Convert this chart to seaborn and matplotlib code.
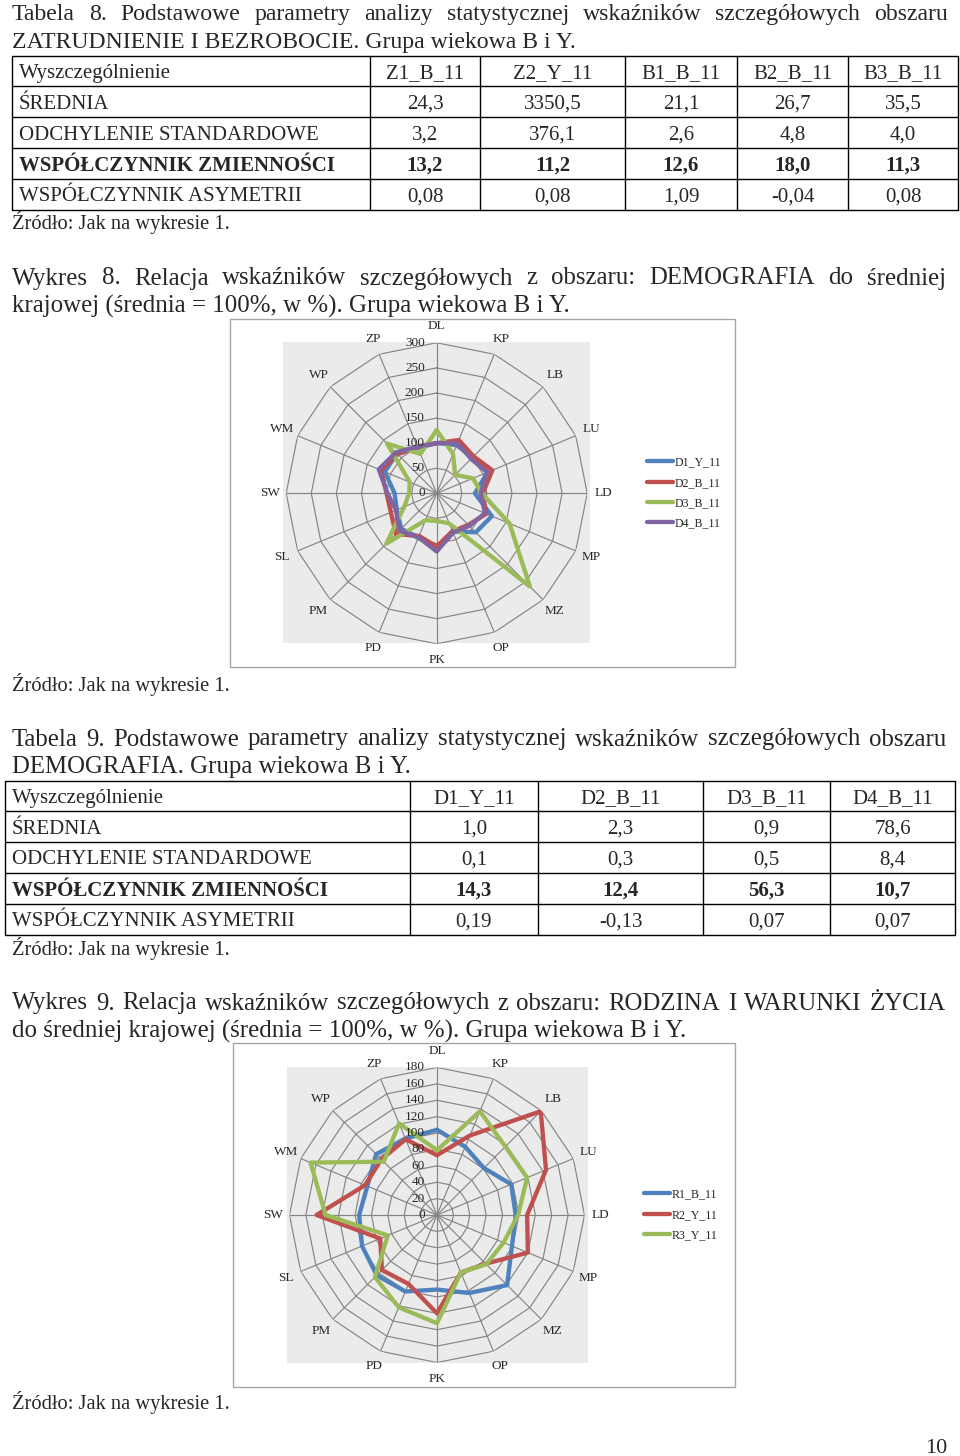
import numpy as np
import pandas as pd
import seaborn as sns
import matplotlib.pyplot as plt
from matplotlib.patches import Rectangle

sns.set_style('white')
plt.rcParams['font.family'] = ['Liberation Serif', 'DejaVu Serif']

# --- data ---------------------------------------------------------------
regions = ['DL', 'KP', 'LB', 'LU', 'LD', 'MP', 'MZ', 'OP',
           'PK', 'PD', 'PM', 'SL', 'SW', 'WM', 'WP', 'ZP']

d1_y_11 = [100, 105, 100, 110, 76, 119, 110, 82, 108, 95, 100, 86, 84, 112, 112, 98]
d2_b_11 = [100, 115, 104, 120, 92, 107, 89, 82, 106, 92, 115, 99, 100, 120, 110, 100]
d3_b_11 = [126, 85, 52, 78, 90, 157, 263, 65, 55, 58, 142, 70, 55, 58, 140, 85]
d4_b_11 = [100, 108, 97, 109, 88, 104, 92, 85, 116, 95, 105, 88, 98, 125, 115, 101]

r1_b_11 = [104, 90, 81, 98, 96, 99, 121, 103, 91, 101, 104, 99, 95, 92, 105, 101]
r2_y_11 = [73, 105, 179, 144, 110, 120, 84, 76, 120, 91, 95, 75, 147, 95, 96, 100]
r3_y_11 = [79, 137, 118, 119, 99, 88, 85, 76, 132, 122, 107, 65, 136, 167, 92, 121]

row_names = ['ŚREDNIA', 'ODCHYLENIE STANDARDOWE',
             'WSPÓŁCZYNNIK ZMIENNOŚCI', 'WSPÓŁCZYNNIK ASYMETRII']

cols8 = ['Z1_B_11', 'Z2_Y_11', 'B1_B_11', 'B2_B_11', 'B3_B_11']
srednia8 = [24.3, 3350.5, 21.1, 26.7, 35.5]
odch8 = [3.2, 376.1, 2.6, 4.8, 4.0]
zmien8 = [13.2, 11.2, 12.6, 18.0, 11.3]
asym8 = [0.08, 0.08, 1.09, -0.04, 0.08]

cols9 = ['D1_Y_11', 'D2_B_11', 'D3_B_11', 'D4_B_11']
srednia9 = [1.0, 2.3, 0.9, 78.6]
odch9 = [0.1, 0.3, 0.5, 8.4]
zmien9 = [14.3, 12.4, 56.3, 10.7]
asym9 = [0.19, -0.13, 0.07, 0.07]

W, H = 960, 1456
HEAD = 17.9     # captions
HEAD8 = 17.1    # first caption is set a bit tighter
CELL = 15.0     # table text
SRC = 14.8      # source lines
fig = plt.figure(figsize=(W / 100, H / 100), dpi=100)

# page canvas in pixel units
pg = fig.add_axes([0, 0, 1, 1])
pg.set_xlim(0, W)
pg.set_ylim(H, 0)
pg.axis('off')
renderer = fig.canvas.get_renderer()


def ptext(x, y, s, size=HEAD, **kw):
    kw.setdefault('va', 'center_baseline')
    return pg.text(x, y, s, fontsize=size, **kw)


def justify(line, y, x0, x1, size=HEAD):
    """ spread the words of a line between x0 and x1 """
    words = line.split()
    texts = [ptext(0, y, w, size=size) for w in words]
    widths = [t.get_window_extent(renderer).width for t in texts]
    gap = (x1 - x0 - sum(widths)) / (len(words) - 1)
    x = x0
    for t, w in zip(texts, widths):
        t.set_x(x)
        x += w + gap


def fmt(v, nd=1):
    return '{:.{}f}'.format(v, nd).replace('.', ',')


def table(top, xs, cols, rows, first_x):
    row_h = 30.8
    ys = [top + i * row_h for i in range(6)]
    for y in ys:
        pg.plot([xs[0], xs[-1]], [y, y], color='black', lw=1)
    for x in xs:
        pg.plot([x, x], [ys[0], ys[-1]], color='black', lw=1)
    labels = ['Wyszczególnienie'] + row_names
    cells = [cols] + rows
    for i in range(5):
        yc = ys[i] + row_h / 2
        bold = 'bold' if i == 3 else 'normal'
        ptext(first_x, yc, labels[i], size=CELL, fontweight=bold)
        for j, s in enumerate(cells[i]):
            ptext((xs[j + 1] + xs[j + 2]) / 2, yc, s, size=CELL,
                  ha='center', fontweight=bold)


def radar(cx, cy, rad, box, gray, series, names, colors, ticks, leg_xy):
    bx0, by0, bx1, by1 = box
    pg.add_patch(Rectangle((bx0, by0), bx1 - bx0, by1 - by0,
                           facecolor='white', edgecolor='#a6a6a6', lw=1))
    gx0, gy0, gx1, gy1 = gray
    pg.add_patch(Rectangle((gx0, gy0), gx1 - gx0, gy1 - gy0,
                           facecolor='#ebebeb', edgecolor='none'))
    ax = fig.add_axes([(cx - rad) / W, 1 - (cy + rad) / H, 2 * rad / W, 2 * rad / H],
                      projection='polar')
    ax.set_facecolor('none')
    ax.set_theta_zero_location('N')
    ax.set_theta_direction(-1)
    rmax = ticks[-1]
    n = len(regions)
    theta = np.linspace(0, 2 * np.pi, n, endpoint=False)
    closed = np.append(theta, 2 * np.pi)
    for r in ticks[1:]:
        ax.plot(closed, [r] * (n + 1), color='#858585', lw=0.85)
    for t in theta:
        ax.plot([t, t], [0, rmax], color='#858585', lw=0.85)
    frames = []
    for name, vals in zip(names, series):
        frames.append(pd.DataFrame({'theta': closed,
                                    'val': list(vals) + [vals[0]],
                                    'seria': name}))
    df = pd.concat(frames, ignore_index=True)
    sns.lineplot(data=df, x='theta', y='val', hue='seria', palette=colors,
                 sort=False, estimator=None, lw=3.1, ax=ax)
    ax.set_ylim(0, rmax)
    ax.set_xticks([])
    ax.set_yticks([])
    ax.grid(False)
    ax.spines['polar'].set_visible(False)
    ax.set_xlabel('')
    ax.set_ylabel('')
    for r in ticks:
        ax.annotate(str(r), (0, r), xytext=(-12, 0), textcoords='offset pixels',
                    ha='right', va='center', fontsize=9.5)
    for t, lab in zip(theta, regions):
        ax.text(t, rmax * 1.11, lab, ha='center', va='center', fontsize=9.5)
    handles, labels = ax.get_legend_handles_labels()
    ax.legend(handles, labels, loc='center left',
              bbox_to_anchor=(leg_xy[0] / W, 1 - leg_xy[1] / H),
              bbox_transform=fig.transFigure, frameon=False, fontsize=8.6,
              handlelength=2.2, handletextpad=0.1, labelspacing=0.7,
              borderaxespad=0, borderpad=0)
    return ax


# --- Tabela 8 -----------------------------------------------------------
justify('Tabela 8. Podstawowe parametry analizy statystycznej wskaźników szczegółowych obszaru',
        12, 12, 948, size=HEAD8)
ptext(12, 40, 'ZATRUDNIENIE I BEZROBOCIE. Grupa wiekowa B i Y.', size=HEAD8)
table(55.5, [12, 370, 480, 625, 737, 848, 958], cols8,
      [[fmt(v) for v in srednia8], [fmt(v) for v in odch8],
       [fmt(v) for v in zmien8], [fmt(v, 2) for v in asym8]], 19)
ptext(12, 220, 'Źródło: Jak na wykresie 1.', size=SRC)

# --- Wykres 8 -----------------------------------------------------------
justify('Wykres 8. Relacja wskaźników szczegółowych z obszaru: DEMOGRAFIA do średniej',
        276, 12, 946)
ptext(12, 304, 'krajowej (średnia = 100%, w %). Grupa wiekowa B i Y.')
radar(436.7, 493.3, 150.5, (230, 319, 735, 667), (283, 342, 590, 643),
      [d1_y_11, d2_b_11, d3_b_11, d4_b_11], ['D1_Y_11', 'D2_B_11', 'D3_B_11', 'D4_B_11'],
      ['#4f81bd', '#c0504d', '#9bbb59', '#8064a2'], list(range(0, 301, 50)), (647, 493))
ptext(12, 682, 'Źródło: Jak na wykresie 1.', size=SRC)

# --- Tabela 9 -----------------------------------------------------------
justify('Tabela 9. Podstawowe parametry analizy statystycznej wskaźników szczegółowych obszaru',
        737, 12, 946)
ptext(12, 765, 'DEMOGRAFIA. Grupa wiekowa B i Y.')
table(780.5, [5, 410, 538, 703, 830, 955], cols9,
      [[fmt(v) for v in srednia9], [fmt(v) for v in odch9],
       [fmt(v) for v in zmien9], [fmt(v, 2) for v in asym9]], 12)
ptext(12, 946, 'Źródło: Jak na wykresie 1.', size=SRC)

# --- Wykres 9 -----------------------------------------------------------
justify('Wykres 9. Relacja wskaźników szczegółowych z obszaru: RODZINA I WARUNKI ŻYCIA',
        1001, 12, 946)
ptext(12, 1029, 'do średniej krajowej (średnia = 100%, w %). Grupa wiekowa B i Y.')
radar(437, 1215, 147.5, (233, 1043, 735, 1387), (287, 1067, 588, 1363),
      [r1_b_11, r2_y_11, r3_y_11], ['R1_B_11', 'R2_Y_11', 'R3_Y_11'],
      ['#4f81bd', '#c0504d', '#9bbb59'], list(range(0, 181, 20)), (644, 1215))
ptext(12, 1400, 'Źródło: Jak na wykresie 1.', size=SRC)

ptext(947, 1446, '10', size=16, ha='right')

fig.savefig('out.png', dpi=100)
